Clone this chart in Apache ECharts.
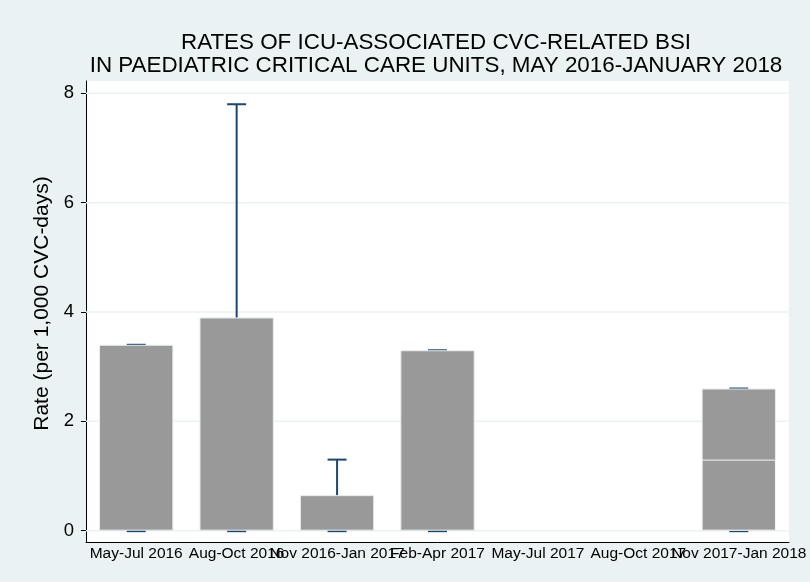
<!DOCTYPE html>
<html>
<head>
<meta charset="utf-8">
<script src="https://cdn.jsdelivr.net/npm/echarts@6/dist/echarts.min.js"></script>
<style>
  html, body { margin: 0; padding: 0; background: #eaf2f3; }
  #chart { width: 810px; height: 582px; }
</style>
</head>
<body>
<div id="chart"></div>
<script>
// periods on the x axis
var periods = ['May-Jul 2016', 'Aug-Oct 2016', 'Nov 2016-Jan 2017', 'Feb-Apr 2017',
  'May-Jul 2017', 'Aug-Oct 2017', 'Nov 2017-Jan 2018']
// rate per 1,000 CVC-days
var rates = [3.4, 3.9, 0.65, 3.3, null, null, 2.6]
// second (overlapping) bar seen inside the last period
var innerRates = [null, null, null, null, null, null, 1.3]
// interval ends
var ciLow = [0, 0, 0, 0, null, null, 0]
var ciHigh = [3.4, 7.8, 1.3, 3.3, null, null, 2.6]
var yTicks = [0, 2, 4, 6, 8]

var chart = echarts.init(document.getElementById('chart'))

var ciData = []
for (var i = 0; i < periods.length; i++) {
  if (ciLow[i] != null) ciData.push([i, ciLow[i], ciHigh[i]])
}

function renderCI(params, api) {
  var x = api.value(0)
  var lo = api.coord([x, api.value(1)])
  var hi = api.coord([x, api.value(2)])
  var half = 9.5
  var style = { stroke: '#1a476f', lineWidth: 2 }
  return {
    type: 'group',
    children: [
      { type: 'line', shape: { x1: lo[0], y1: lo[1], x2: hi[0], y2: hi[1] }, style: style },
      { type: 'line', shape: { x1: lo[0] - half, y1: lo[1] + 0.5, x2: lo[0] + half, y2: lo[1] + 0.5 }, style: style },
      { type: 'line', shape: { x1: hi[0] - half, y1: hi[1], x2: hi[0] + half, y2: hi[1] }, style: style }
    ]
  }
}

// horizontal grid lines behind the bars
function renderGridLine(params, api) {
  var cs = params.coordSys
  var y = api.coord([0, api.value(0)])[1]
  return {
    type: 'line',
    shape: { x1: cs.x, y1: y, x2: cs.x + cs.width, y2: y },
    style: { stroke: '#eaf2f3', lineWidth: 1.5 }
  }
}

var option = {
  backgroundColor: '#eaf2f3',
  animation: false,
  textStyle: { fontFamily: 'Liberation Sans' },
  title: {
    text: 'RATES OF ICU-ASSOCIATED CVC-RELATED BSI\nIN PAEDIATRIC CRITICAL CARE UNITS, MAY 2016-JANUARY 2018',
    left: 431,
    top: 26,
    textAlign: 'center',
    textStyle: { fontSize: 22.4, fontWeight: 'normal', color: '#000', lineHeight: 23, fontFamily: 'Liberation Sans' }
  },
  grid: { left: 86, right: 21, top: 81, bottom: 40, show: true, backgroundColor: '#fff', borderWidth: 0 },
  xAxis: {
    type: 'category',
    data: periods,
    axisLine: { onZero: false, lineStyle: { color: '#000', width: 1 } },
    axisTick: { show: false },
    axisLabel: { interval: 0, hideOverlap: false, margin: 4, fontSize: 15.5, color: '#000' },
    splitLine: { show: false }
  },
  yAxis: {
    type: 'value',
    min: -0.207,
    max: 8.225,
    name: 'Rate (per 1,000 CVC-days)',
    nameLocation: 'middle',
    nameGap: 30,
    nameTextStyle: { fontSize: 21, color: '#000', padding: [0, 0, 0, 16] },
    axisLine: { show: true, lineStyle: { color: '#000', width: 1 } },
    axisTick: { show: true, length: 5, customValues: yTicks, lineStyle: { color: '#000' } },
    axisLabel: { customValues: yTicks, fontSize: 18.5, color: '#000', margin: 12 },
    splitLine: { show: false }
  },
  series: [
    {
      type: 'custom',
      renderItem: renderGridLine,
      data: yTicks.map(function (v) { return [v] }),
      encode: { y: 0 },
      silent: true,
      z: 1
    },
    {
      type: 'custom',
      renderItem: renderCI,
      data: ciData,
      z: 2,
      encode: { x: 0, y: [1, 2] }
    },
    {
      type: 'bar',
      data: rates,
      barWidth: '74%',
      z: 3,
      itemStyle: { color: '#999999', borderColor: '#e6ecee', borderWidth: 1 }
    },
    {
      type: 'bar',
      data: innerRates,
      barWidth: '74%',
      barGap: '-100%',
      z: 3,
      itemStyle: { color: '#999999', borderColor: '#f4f6f7', borderWidth: 1 }
    }
  ]
}
chart.setOption(option)
</script>
</body>
</html>
